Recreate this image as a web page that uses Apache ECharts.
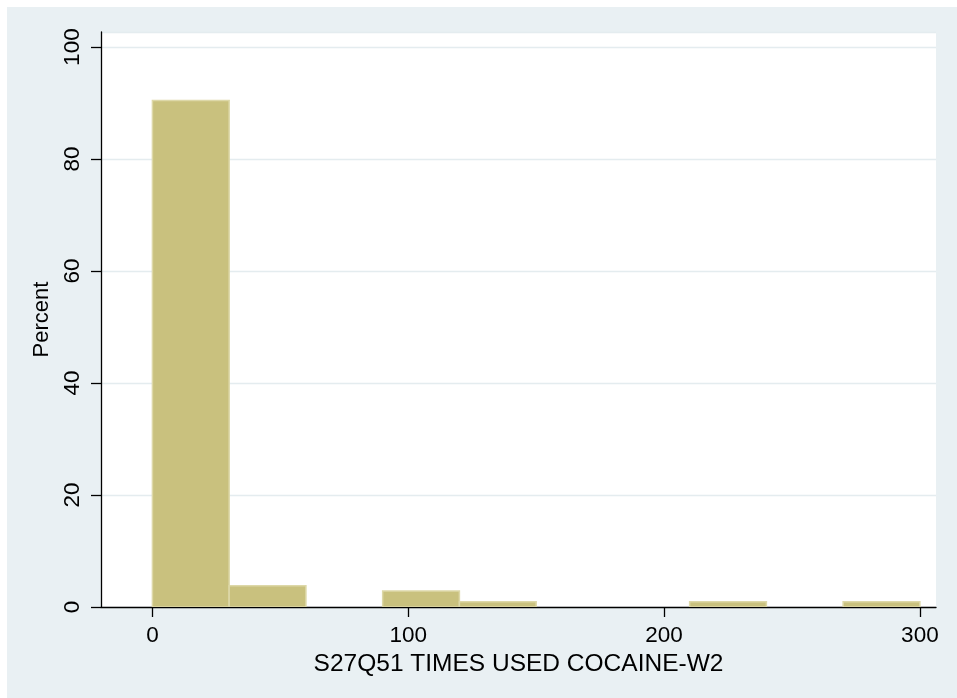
<!DOCTYPE html>
<html>
<head>
<meta charset="utf-8">
<script src="https://cdn.jsdelivr.net/npm/echarts@6/dist/echarts.min.js"></script>
<style>
html,body{margin:0;padding:0;background:#ffffff;}
#chart{width:957px;height:698px;}
</style>
</head>
<body>
<div id="chart"></div>
<script>
const binLow = [0, 30, 90, 120, 210, 270];
const binHigh = [30, 60, 120, 150, 240, 300];
const percent = [90.48, 3.81, 2.86, 0.95, 0.95, 0.95];
const xTicks = [0, 100, 200, 300];
const yTicks = [0, 20, 40, 60, 80, 100];
const xTitle = 'S27Q51 TIMES USED COCAINE-W2';
const yTitle = 'Percent';

const chart = echarts.init(document.getElementById('chart'), null, {renderer: 'canvas'});
const font = 'Liberation Sans, Arial, sans-serif';
const data = binLow.map((l, i) => [l, binHigh[i], percent[i]]);

chart.setOption({
  backgroundColor: '#ffffff',
  animation: false,
  graphic: [{
    type: 'rect', z: -10, silent: true,
    shape: {x: 7, y: 7, width: 960, height: 700},
    style: {fill: '#e9f0f3'}
  }],
  grid: {
    left: 101, top: 32, right: 21, bottom: 91,
    show: true, backgroundColor: '#ffffff', borderWidth: 0
  },
  xAxis: {
    type: 'value', min: -20.1, max: 306.3,
    name: xTitle, nameLocation: 'middle', nameGap: 41,
    nameTextStyle: {fontFamily: font, fontSize: 24.5, color: '#000'},
    axisLine: {show: true, onZero: false, lineStyle: {color: '#000', width: 1.3}},
    axisTick: {show: true, length: 10, customValues: xTicks, lineStyle: {color: '#000', width: 1.3}},
    axisLabel: {customValues: xTicks, margin: 17, fontFamily: font, fontSize: 22.5, color: '#000'},
    splitLine: {show: false}
  },
  yAxis: {
    type: 'value', min: 0, max: 102.7, interval: 20,
    name: yTitle, nameLocation: 'middle', nameGap: 37, nameRotate: 90,
    nameTextStyle: {fontFamily: font, fontSize: 22, color: '#000'},
    axisLine: {show: true, onZero: false, lineStyle: {color: '#000', width: 1.3}},
    axisTick: {show: true, length: 10, lineStyle: {color: '#000', width: 1.3}},
    axisLabel: {rotate: 90, margin: 17, fontFamily: font, fontSize: 22.5, color: '#000', showMaxLabel: false,
      formatter: v => (yTicks.indexOf(v) >= 0 ? String(v) : '')},
    splitLine: {show: true, lineStyle: {color: '#e4ecef', width: 1.3}}
  },
  series: [{
    type: 'custom',
    data: data,
    encode: {x: [0, 1], y: 2},
    clip: true,
    renderItem: function (params, api) {
      const p0 = api.coord([api.value(0), api.value(2)]);
      const p1 = api.coord([api.value(1), 0]);
      return {
        type: 'rect',
        shape: {x: p0[0], y: p0[1], width: p1[0] - p0[0], height: p1[1] - p0[1]},
        style: {fill: '#c9c17e', stroke: '#ddd8a8', lineWidth: 1.5}
      };
    }
  }]
});
</script>
</body>
</html>
